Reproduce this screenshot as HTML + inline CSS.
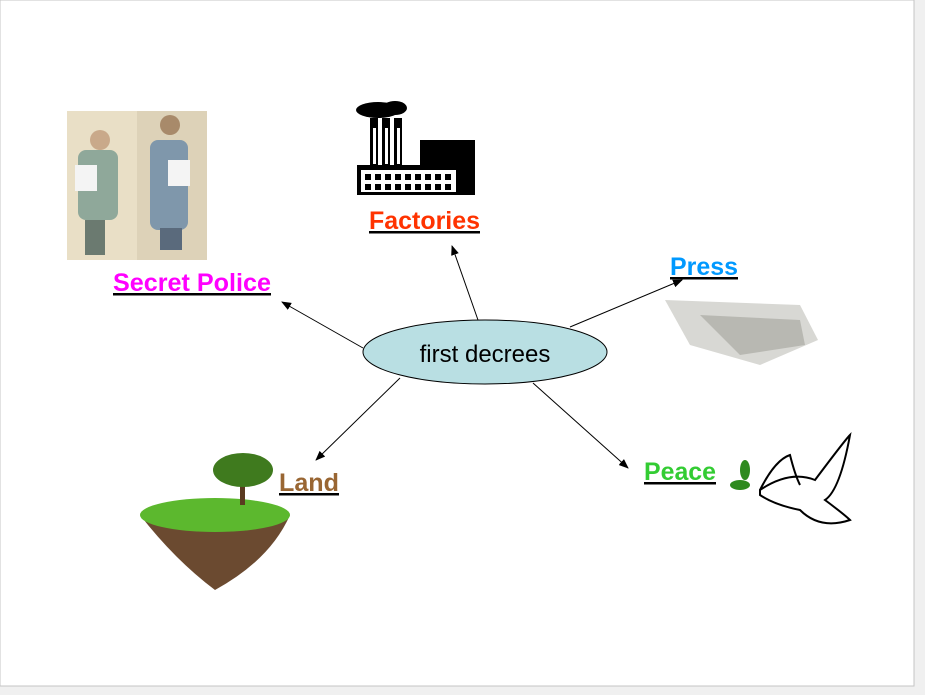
<!DOCTYPE html>
<html><head><meta charset="utf-8"><style>
body{margin:0;width:925px;height:695px;background:#f0f0f0;overflow:hidden;font-family:"Liberation Sans",sans-serif}
</style></head><body>
<svg width="925" height="695" xmlns="http://www.w3.org/2000/svg" style="position:absolute;left:0;top:0">
<defs><marker id="a" markerWidth="10" markerHeight="8" refX="9" refY="4" orient="auto" markerUnits="userSpaceOnUse"><path d="M0,0 L10,4 L0,8 z" fill="#000"/></marker></defs>
<rect x="0" y="0" width="914" height="686" fill="#fff" stroke="#c4c4c4" stroke-width="1"/>
<rect x="67" y="111" width="140" height="149" fill="#e9dfc6"/>
<rect x="137" y="111" width="70" height="149" fill="#ddd2b8"/>
<rect x="78" y="150" width="40" height="70" rx="8" fill="#8fa89a"/>
<rect x="150" y="140" width="38" height="90" rx="8" fill="#7f97ab"/>
<rect x="75" y="165" width="22" height="26" fill="#f4f4f4"/>
<rect x="168" y="160" width="22" height="26" fill="#f4f4f4"/>
<circle cx="100" cy="140" r="10" fill="#c9a98a"/><circle cx="170" cy="125" r="10" fill="#a88a6a"/>
<rect x="85" y="220" width="20" height="35" fill="#6b7a70"/><rect x="160" y="228" width="22" height="22" fill="#5a6a7c"/>
<g fill="#000">
<rect x="357" y="165" width="118" height="30"/>
<rect x="370" y="118" width="8" height="50"/><rect x="382" y="118" width="8" height="50"/><rect x="394" y="118" width="8" height="50"/>
<rect x="420" y="140" width="55" height="28"/>
<ellipse cx="378" cy="110" rx="22" ry="8"/><ellipse cx="395" cy="108" rx="12" ry="7"/>
</g>
<rect x="361" y="170" width="95" height="22" fill="#fff"/>
<g fill="#000"><rect x="365" y="174" width="6" height="6"/><rect x="375" y="174" width="6" height="6"/><rect x="385" y="174" width="6" height="6"/><rect x="395" y="174" width="6" height="6"/><rect x="405" y="174" width="6" height="6"/><rect x="415" y="174" width="6" height="6"/><rect x="425" y="174" width="6" height="6"/><rect x="435" y="174" width="6" height="6"/><rect x="445" y="174" width="6" height="6"/>
<rect x="365" y="184" width="6" height="6"/><rect x="375" y="184" width="6" height="6"/><rect x="385" y="184" width="6" height="6"/><rect x="395" y="184" width="6" height="6"/><rect x="405" y="184" width="6" height="6"/><rect x="415" y="184" width="6" height="6"/><rect x="425" y="184" width="6" height="6"/><rect x="435" y="184" width="6" height="6"/><rect x="445" y="184" width="6" height="6"/></g>
<rect x="373" y="128" width="3" height="36" fill="#fff"/><rect x="385" y="128" width="3" height="36" fill="#fff"/><rect x="397" y="128" width="3" height="36" fill="#fff"/>
<path d="M665,300 L800,305 L818,340 L760,365 L690,345 Z" fill="#d8d8d4"/>
<path d="M700,315 L800,320 L805,345 L740,355 Z" fill="#b8b8b2"/>
<path d="M140,515 Q215,490 290,515 Q270,560 215,590 Q175,560 140,515 Z" fill="#6b4a30"/>
<ellipse cx="215" cy="515" rx="75" ry="17" fill="#5cb82e"/>
<rect x="240" y="475" width="5" height="30" fill="#5a3a20"/>
<ellipse cx="243" cy="470" rx="30" ry="17" fill="#3f7a1e"/>
<path d="M760,490 Q790,470 815,480 Q845,440 850,435 Q840,490 825,500 Q845,515 850,520 Q820,530 800,510 Q775,505 760,495 Z" fill="#fff" stroke="#000" stroke-width="2"/>
<path d="M760,490 Q775,460 790,455 Q795,475 800,485" fill="none" stroke="#000" stroke-width="2"/>
<ellipse cx="740" cy="485" rx="10" ry="5" fill="#2e8a1e"/><ellipse cx="745" cy="470" rx="5" ry="10" fill="#2e8a1e"/>
<g stroke="#000" stroke-width="1" marker-end="url(#a)">
<line x1="478" y1="320" x2="452" y2="246"/>
<line x1="570" y1="327" x2="682" y2="280"/>
<line x1="363" y1="348" x2="282" y2="302"/>
<line x1="400" y1="378" x2="316" y2="460"/>
<line x1="533" y1="383" x2="628" y2="468"/>
</g>
<ellipse cx="485" cy="352" rx="122" ry="32" fill="#b9dfe3" stroke="#000" stroke-width="1"/>
<text x="485" y="362" font-size="24" text-anchor="middle" font-family="Liberation Sans,sans-serif">first decrees</text>
<g font-family="Liberation Sans,sans-serif" font-weight="bold" font-size="25" text-decoration="underline" lengthAdjust="spacingAndGlyphs">
<text x="369" y="229" fill="#ff3300" textLength="111" lengthAdjust="spacingAndGlyphs">Factories</text>
<text x="670" y="275" fill="#0099ff" textLength="68" lengthAdjust="spacingAndGlyphs">Press</text>
<text x="113" y="291" fill="#ff00ff" textLength="158" lengthAdjust="spacingAndGlyphs">Secret Police</text>
<text x="279" y="491" fill="#996633" textLength="60" lengthAdjust="spacingAndGlyphs">Land</text>
<text x="644" y="480" fill="#33cc33" textLength="72" lengthAdjust="spacingAndGlyphs">Peace</text>
</g>
</svg>
</body></html>
